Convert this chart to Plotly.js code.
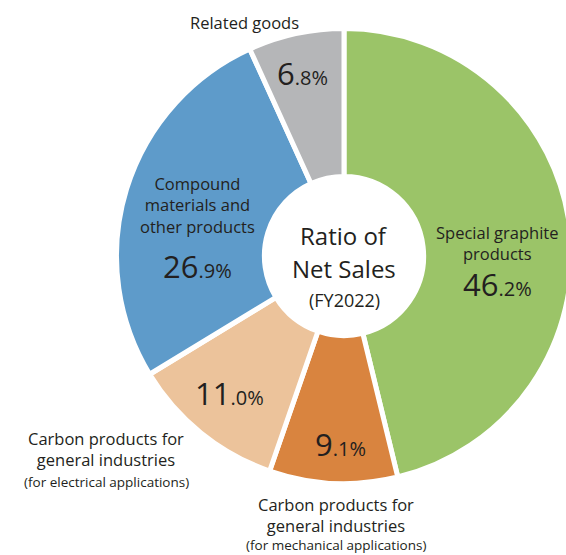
<!DOCTYPE html>
<html>
<head>
<meta charset="utf-8">
<script src="https://cdn.plot.ly/plotly-3.0.1.min.js"></script>
<style>html,body{margin:0;padding:0;background:#fff;overflow:hidden;width:566px;height:555px;}#chart{width:600px;height:555px;}</style>
</head>
<body>
<div id="chart"></div>
<script>
// Data (clockwise from 12 o'clock)
var categories = [
  "Special graphite<br>products",
  "Carbon products for<br>general industries",
  "Carbon products for<br>general industries",
  "Compound<br>materials and<br>other products",
  "Related goods"
];
var subLabels = ["", "(for mechanical applications)", "(for electrical applications)", "", ""];
var shares = [46.2, 9.1, 11.0, 26.9, 6.8];
var colors = ["#9bc468", "#d9843f", "#ecc39b", "#5e9bca", "#b5b6b8"];
var centerTitle = ["Ratio of", "Net Sales", "(FY2022)"];

var FONT = "Open Sans, Noto Sans, sans-serif";
var TXT = "#231f20";

function pctText(v) {
  var s = v.toFixed(1).split(".");
  return s[0] + '<span style="font-size:20px">.' + s[1] + '%</span>';
}

// Label placements (px from top-left of the 566x555 view)
var labelPos = [[497, 243], [336, 515], [106, 449], [197, 205], [244, 22]];
var subPos = [null, [336, 545], [106, 482], null, null];
var pctPos = [[497, 284], [340, 444], [229, 393], [197, 266], [302, 73]];

var W = 600, H = 555;
function px(x) { return x / W; }
function py(y) { return 1 - y / H; }

var annotations = [];
for (var i = 0; i < categories.length; i++) {
  annotations.push({
    x: px(labelPos[i][0]), y: py(labelPos[i][1]), xref: "paper", yref: "paper",
    text: categories[i], showarrow: false, xanchor: "center", yanchor: "middle",
    font: {family: FONT, size: 16.5, color: TXT}, align: "center"
  });
  if (subPos[i]) {
    annotations.push({
      x: px(subPos[i][0]), y: py(subPos[i][1]), xref: "paper", yref: "paper",
      text: subLabels[i], showarrow: false, xanchor: "center", yanchor: "middle",
      font: {family: FONT, size: 13.5, color: TXT}
    });
  }
  annotations.push({
    x: px(pctPos[i][0]), y: py(pctPos[i][1]), xref: "paper", yref: "paper",
    text: pctText(shares[i]), showarrow: false, xanchor: "center", yanchor: "middle",
    font: {family: FONT, size: 31, color: TXT}
  });
}
annotations.push({x: px(344), y: py(235), xref: "paper", yref: "paper", text: centerTitle[0],
  showarrow: false, font: {family: FONT, size: 24, color: TXT}});
annotations.push({x: px(344), y: py(268), xref: "paper", yref: "paper", text: centerTitle[1],
  showarrow: false, font: {family: FONT, size: 24, color: TXT}});
annotations.push({x: px(344), y: py(300), xref: "paper", yref: "paper", text: centerTitle[2],
  showarrow: false, font: {family: FONT, size: 18, color: TXT}});

var trace = {
  type: "pie",
  values: shares,
  labels: ["a", "b", "c", "d", "e"],
  marker: {colors: colors, line: {color: "#ffffff", width: 5}},
  sort: false,
  direction: "clockwise",
  rotation: 0,
  hole: 0.35,
  textinfo: "none",
  hoverinfo: "skip",
  showlegend: false,
  domain: {x: [px(116.5), px(571.5)], y: [py(483.5), py(28.5)]}
};

var layout = {
  width: W, height: H,
  margin: {l: 0, r: 0, t: 0, b: 0},
  paper_bgcolor: "#ffffff",
  showlegend: false,
  annotations: annotations
};

Plotly.newPlot("chart", [trace], layout, {displayModeBar: false, staticPlot: true});
</script>
</body>
</html>
